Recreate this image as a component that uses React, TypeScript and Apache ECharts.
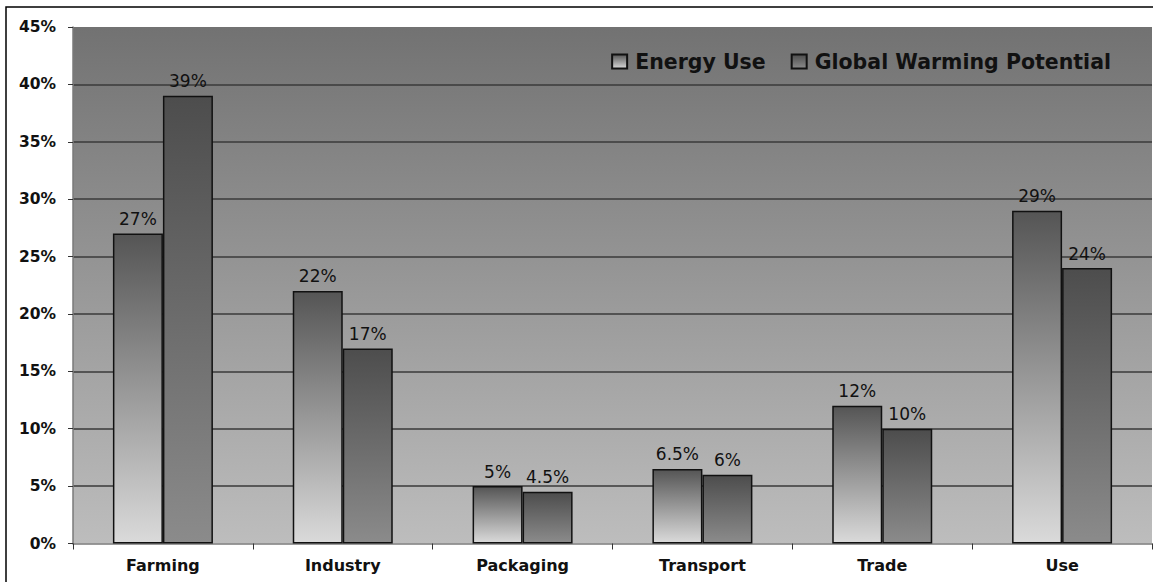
import React, { useEffect, useRef } from "react";
import * as echarts from "echarts";

const categories = ["Farming", "Industry", "Packaging", "Transport", "Trade", "Use"];
const energyUse = [27, 22, 5, 6.5, 12, 29];
const globalWarming = [39, 17, 4.5, 6, 10, 24];
const seriesNames = ["Energy Use", "Global Warming Potential"];

const FONT = "DejaVu Sans";

export default function App() {
  const ref = useRef<HTMLDivElement>(null);
  useEffect(() => {
    if (!ref.current) return;
    const chart = echarts.init(ref.current, undefined, { renderer: "svg" });
    const grad = (top: string, bottom: string) =>
      new echarts.graphic.LinearGradient(0, 0, 0, 1, [
        { offset: 0, color: top },
        { offset: 1, color: bottom },
      ]);
    const splitColors = ["rgba(0,0,0,0)", "#3a3a3a", "#3a3a3a", "#3a3a3a", "#3a3a3a", "#3a3a3a", "#3a3a3a", "#3a3a3a", "#3a3a3a", "rgba(0,0,0,0)"];
    const label = {
      show: true,
      position: "top",
      distance: 6,
      fontFamily: FONT,
      fontSize: 17,
      color: "#111",
      formatter: (p: any) => `${p.value}%`,
    };
    chart.setOption({
      animation: false,
      backgroundColor: "#ffffff",
      textStyle: { fontFamily: FONT },
      grid: {
        left: 73,
        right: 1,
        top: 27,
        bottom: 38.5,
        show: true,
        borderWidth: 0,
        backgroundColor: grad("#727272", "#bdbdbd"),
      },
      graphic: [
        {
          type: "rect",
          shape: { x: 6, y: 7, width: 1300, height: 800 },
          style: { fill: "none", stroke: "#000", lineWidth: 1.5 },
          silent: true,
          z: 100,
        },
      ],
      legend: {
        right: 42,
        top: 51,
        padding: 0,
        itemWidth: 15,
        itemHeight: 14,
        itemGap: 25,
        icon: "rect",
        textStyle: { fontFamily: FONT, fontWeight: "bold", fontSize: 20.5, color: "#111", padding: [0, 0, 0, 3] },
        data: seriesNames,
      },
      xAxis: {
        type: "category",
        data: categories,
        axisLine: { show: true, lineStyle: { color: "#7a7a7a", width: 1.5 } },
        axisTick: { show: true, length: 6, lineStyle: { color: "#333" } },
        axisLabel: { fontFamily: FONT, fontWeight: "bold", fontSize: 16, color: "#111", margin: 14 },
        splitLine: { show: false },
      },
      yAxis: {
        type: "value",
        min: 0,
        max: 45,
        interval: 5,
        axisLine: { show: true, lineStyle: { color: "#7a7a7a", width: 1.5 } },
        axisTick: { show: true, length: 5, lineStyle: { color: "#333" } },
        axisLabel: {
          fontFamily: FONT,
          fontWeight: "bold",
          fontSize: 15.5,
          color: "#111",
          margin: 17,
          formatter: "{value}%",
        },
        splitLine: { show: true, lineStyle: { color: splitColors, width: 1.5 } },
      },
      series: [
        {
          name: seriesNames[0],
          type: "bar",
          data: energyUse,
          barWidth: 50,
          barGap: "0%",
          itemStyle: { color: grad("#555555", "#dadada"), borderColor: "#111", borderWidth: 1.5 },
          label,
        },
        {
          name: seriesNames[1],
          type: "bar",
          data: globalWarming,
          barWidth: 50,
          barGap: "0%",
          itemStyle: { color: grad("#4d4d4d", "#8b8b8b"), borderColor: "#111", borderWidth: 1.5 },
          label,
        },
      ],
    });
    return () => chart.dispose();
  }, []);
  return (
    <div
      ref={ref}
      style={{ position: "fixed", left: 0, top: 0, width: 1153, height: 582 }}
    />
  );
}
